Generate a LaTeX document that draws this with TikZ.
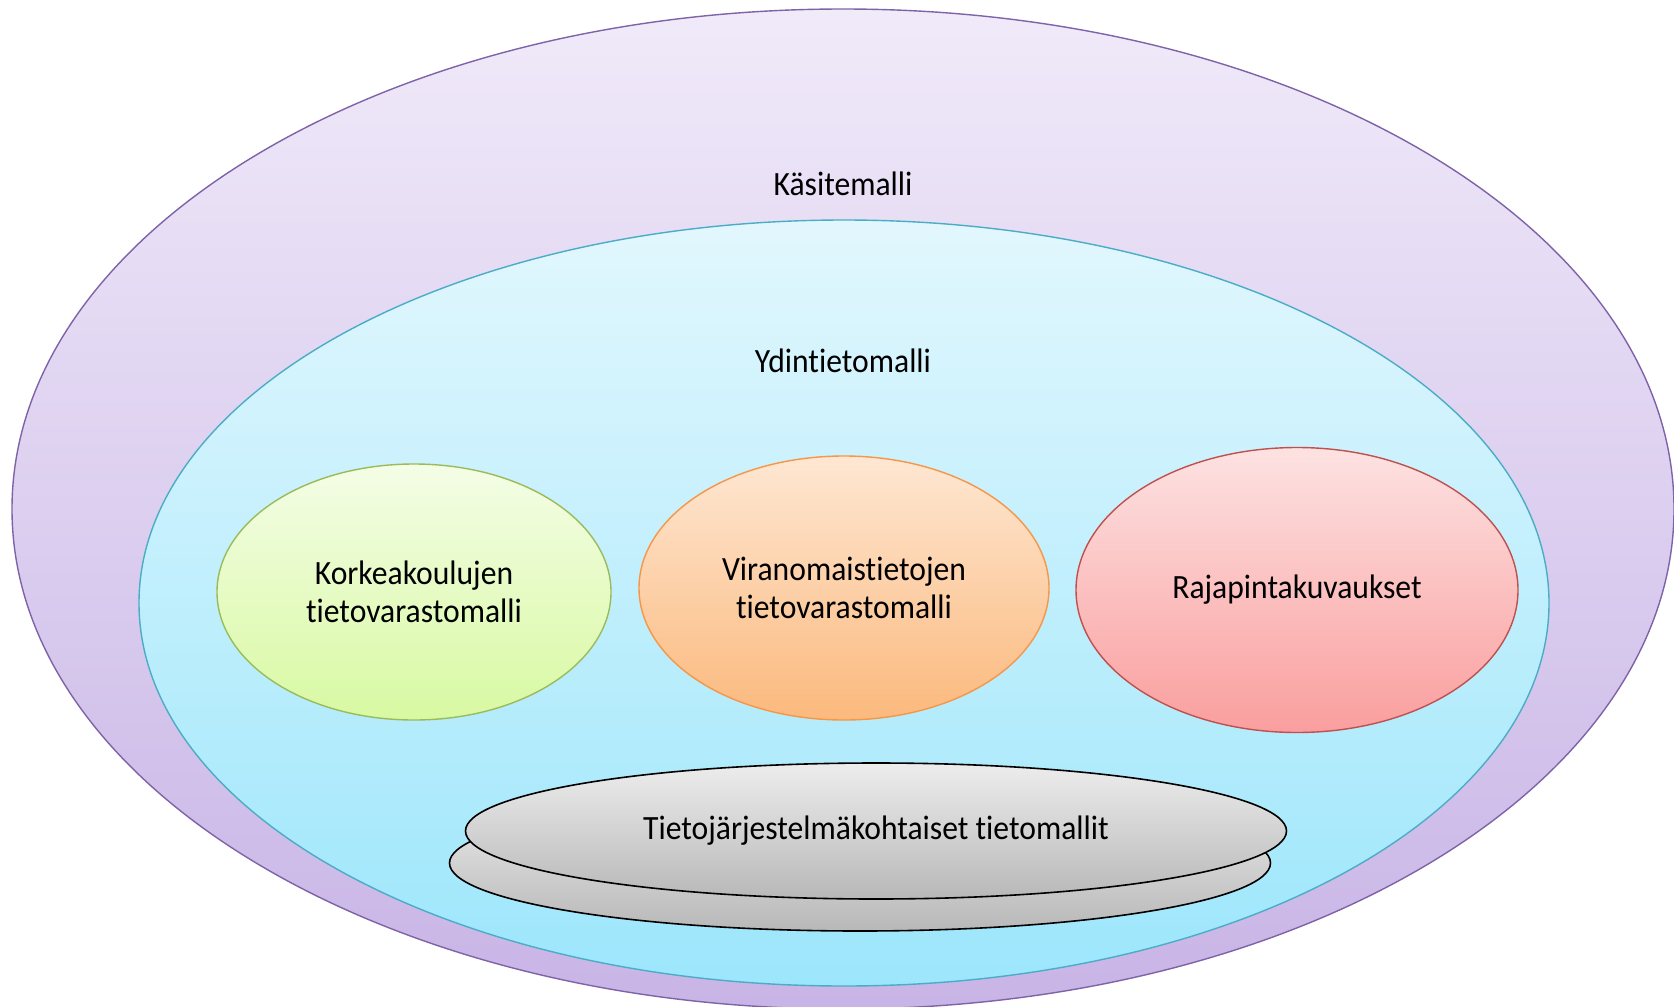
\documentclass[tikz,border=0pt]{standalone}
\usepackage{fontspec}
\setmainfont{Carlito}[FakeStretch=0.93, Ligatures=NoCommon]
\usetikzlibrary{shapes.geometric}
\definecolor{purpleedge}{HTML}{7F63A8}
\definecolor{purpletop}{HTML}{F0EAF9}
\definecolor{purplebot}{HTML}{C8B4E6}
\definecolor{cyanedge}{HTML}{4BACC6}
\definecolor{cyantop}{HTML}{E2F7FD}
\definecolor{cyanbot}{HTML}{9CE6FC}
\definecolor{greenedge}{HTML}{9BBB59}
\definecolor{greentop}{HTML}{F4FDE6}
\definecolor{greenbot}{HTML}{D8F9A2}
\definecolor{orangeedge}{HTML}{F79646}
\definecolor{orangetop}{HTML}{FEE7D3}
\definecolor{orangebot}{HTML}{FBB97D}
\definecolor{rededge}{HTML}{C0504D}
\definecolor{redtop}{HTML}{FDE2E2}
\definecolor{redbot}{HTML}{FA9E9E}
\definecolor{greytop}{HTML}{EDEDED}
\definecolor{greybot}{HTML}{B8B8B8}
\tikzset{
  lbl/.style={align=center, font=\fontsize{34}{38.5}\selectfont, text=black, inner sep=0pt},
  blob/.style={ellipse, inner sep=0pt, line width=1.4pt, align=center,
    font=\fontsize{34}{38.5}\selectfont},
  disc/.style={ellipse, inner sep=0pt, line width=1.6pt, draw=black,
    top color=greytop, bottom color=greybot, minimum width=821pt, minimum height=136pt}
}
\begin{document}
\begin{tikzpicture}[x=1pt,y=-1pt]
\useasboundingbox (0,0) rectangle (1674,1007);
\fill[white] (0,0) rectangle (1674,1007);
% outer ellipse
\path[draw=purpleedge, line width=1.4pt, top color=purpletop, bottom color=purplebot]
  (843,509) ellipse [x radius=831, y radius=500];
% inner ellipse
\path[draw=cyanedge, line width=1.4pt, top color=cyantop, bottom color=cyanbot]
  (844,603) ellipse [x radius=705, y radius=383];
\node[lbl] (kasite) at (843,184) {Käsitemalli};
\node[lbl] (ydin) at (843,361) {Ydintietomalli};
\node[blob, draw=greenedge, top color=greentop, bottom color=greenbot,
  minimum width=394pt, minimum height=256pt] (korkea) at (414,592)
  {Korkeakoulujen\\tietovarastomalli};
\node[blob, draw=orangeedge, top color=orangetop, bottom color=orangebot,
  minimum width=410pt, minimum height=264pt] (viran) at (844,588)
  {Viranomaistietojen\\tietovarastomalli};
\node[blob, draw=rededge, top color=redtop, bottom color=redbot,
  minimum width=442pt, minimum height=285pt] (raja) at (1297,590)
  {Rajapintakuvaukset};
\node[disc] (discbot) at (860,863) {};
\node[disc, font=\fontsize{34}{38.5}\selectfont] (disctop) at (876,831) {Tietojärjestelmäkohtaiset tietomallit};
\end{tikzpicture}
\end{document}
